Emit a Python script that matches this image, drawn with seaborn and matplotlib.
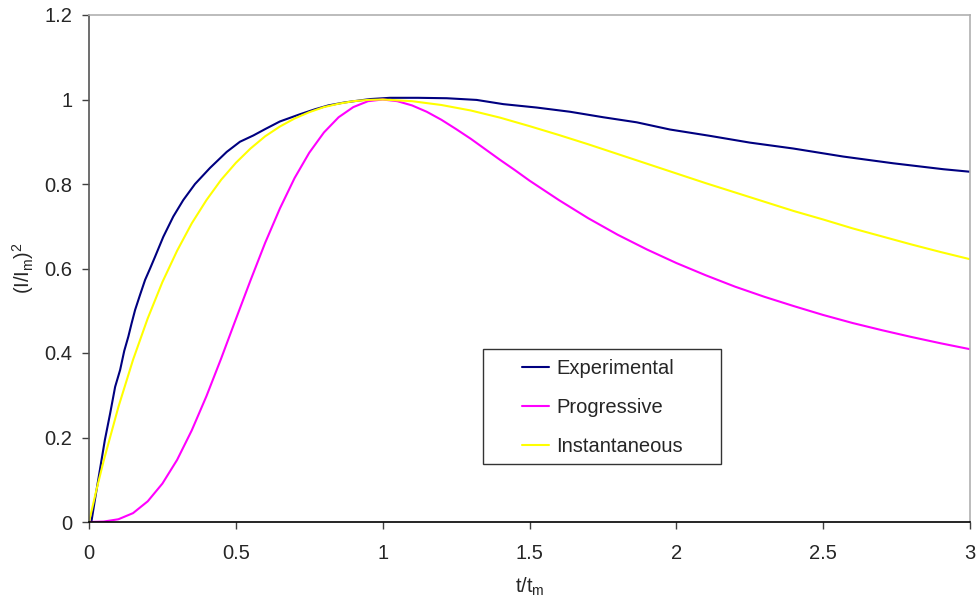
import numpy as np
import pandas as pd
import matplotlib
matplotlib.use("Agg")
import matplotlib.pyplot as plt
from matplotlib.patches import Rectangle
import seaborn as sns

# Normalised chronoamperometric transients (I/Im)^2 versus t/tm
t_exp = [0.008, 0.020, 0.037, 0.054, 0.072, 0.089, 0.106, 0.12, 0.134, 0.145,
         0.157, 0.174, 0.191, 0.208, 0.225, 0.253, 0.287, 0.321, 0.361, 0.412,
         0.469, 0.514, 0.56, 0.6, 0.65, 0.718, 0.77, 0.815, 0.87, 0.957, 1.025,
         1.12, 1.218, 1.32, 1.411, 1.524, 1.638, 1.751, 1.865, 1.978, 2.114,
         2.25, 2.398, 2.568, 2.739, 2.909, 3.0]
y_exp = [0.0, 0.052, 0.123, 0.194, 0.257, 0.320, 0.360, 0.405, 0.439, 0.470,
         0.502, 0.538, 0.573, 0.600, 0.628, 0.675, 0.723, 0.762, 0.800, 0.838,
         0.876, 0.900, 0.915, 0.930, 0.948, 0.965, 0.977, 0.986, 0.993, 1.001,
         1.004, 1.004, 1.003, 0.999, 0.989, 0.981, 0.971, 0.958, 0.946, 0.929,
         0.914, 0.898, 0.884, 0.865, 0.849, 0.835, 0.829]

t_prog = [0.0, 0.05, 0.1, 0.15, 0.2, 0.25, 0.3, 0.35, 0.4, 0.45, 0.5, 0.55,
          0.6, 0.65, 0.7, 0.75, 0.8, 0.85, 0.9, 0.95, 1.0, 1.05, 1.1, 1.15,
          1.2, 1.25, 1.3, 1.35, 1.4, 1.45, 1.5, 1.55, 1.6, 1.7, 1.8, 1.9, 2.0,
          2.1, 2.2, 2.3, 2.4, 2.5, 2.6, 2.7, 2.8, 2.9, 3.0]
y_prog = [0.0, 0.001, 0.0065, 0.021, 0.049, 0.091, 0.147, 0.217, 0.298, 0.387,
          0.480, 0.572, 0.661, 0.742, 0.814, 0.874, 0.922, 0.958, 0.982, 0.996,
          1.0, 0.996, 0.986, 0.971, 0.952, 0.930, 0.907, 0.882, 0.857, 0.833,
          0.808, 0.785, 0.762, 0.719, 0.680, 0.645, 0.613, 0.584, 0.557, 0.533,
          0.511, 0.490, 0.471, 0.454, 0.438, 0.423, 0.409]

t_inst = [0.0, 0.025, 0.05, 0.1, 0.15, 0.2, 0.25, 0.3, 0.35, 0.4, 0.45, 0.5,
          0.55, 0.6, 0.65, 0.7, 0.75, 0.8, 0.85, 0.9, 0.95, 1.0, 1.1, 1.2, 1.3,
          1.4, 1.5, 1.6, 1.7, 1.8, 1.9, 2.0, 2.1, 2.2, 2.3, 2.4, 2.5, 2.6, 2.7,
          2.8, 2.9, 3.0]
y_inst = [0.0, 0.075, 0.145, 0.272, 0.384, 0.482, 0.568, 0.642, 0.707, 0.762,
          0.810, 0.850, 0.884, 0.913, 0.936, 0.955, 0.970, 0.982, 0.990, 0.996,
          0.999, 1.0, 0.996, 0.987, 0.974, 0.957, 0.937, 0.916, 0.894, 0.871,
          0.848, 0.825, 0.802, 0.780, 0.758, 0.736, 0.716, 0.695, 0.676, 0.657,
          0.639, 0.622]

series_names = ["Experimental", "Progressive", "Instantaneous"]
series_colors = ["#000080", "#FF00FF", "#FFFF00"]

df = pd.concat([
    pd.DataFrame({"t": t_exp, "y": y_exp, "series": series_names[0]}),
    pd.DataFrame({"t": t_prog, "y": y_prog, "series": series_names[1]}),
    pd.DataFrame({"t": t_inst, "y": y_inst, "series": series_names[2]}),
], ignore_index=True)

sns.set_style("white")
plt.rcParams["font.family"] = ["Liberation Sans", "DejaVu Sans"]
plt.rcParams["mathtext.fontset"] = "custom"
plt.rcParams["mathtext.rm"] = "Liberation Sans"
plt.rcParams["mathtext.it"] = "Liberation Sans"

FS = 14.5

fig = plt.figure(figsize=(9.77, 6.01), dpi=100)
ax = fig.add_axes([89 / 977, 1 - 522 / 601, (970 - 89) / 977, (522 - 15) / 601])

sns.lineplot(data=df, x="t", y="y", hue="series", hue_order=series_names,
             palette=series_colors, sort=False, estimator=None,
             linewidth=1.5, ax=ax, legend=False)

ax.set_xlim(0, 3)
ax.set_ylim(0, 1.2)
ax.set_xticks([0, 0.5, 1, 1.5, 2, 2.5, 3])
ax.set_xticklabels(["0", "0.5", "1", "1.5", "2", "2.5", "3"])
ax.set_yticks([0, 0.2, 0.4, 0.6, 0.8, 1.0, 1.2])
ax.set_yticklabels(["0", "0.2", "0.4", "0.6", "0.8", "1", "1.2"])
ax.tick_params(axis="both", which="major", labelsize=FS, direction="out",
               length=5, width=1, color="#404040",
               bottom=True, left=True)
ax.tick_params(axis="x", pad=11)
ax.tick_params(axis="y", pad=7)

ax.set_xlabel(r"$\mathregular{t/t_m}$", fontsize=FS, labelpad=9)
ax.set_ylabel(r"$\mathregular{(I/I_m)^2}$", fontsize=FS, labelpad=6)

ax.spines["left"].set_color("#555555")
ax.spines["bottom"].set_color("#000000")
ax.spines["top"].set_color("#b0b0b0")
ax.spines["right"].set_color("#b0b0b0")
for s in ax.spines.values():
    s.set_linewidth(1.2)

# Legend box and entries
ax.add_patch(Rectangle((0.447, 0.114), 0.270, 0.227, transform=ax.transAxes,
                       fill=False, edgecolor="#333333", linewidth=1.0, zorder=5))
handles = [plt.Line2D([], [], color=c, linewidth=1.5) for c in series_colors]
ax.legend(handles, series_names, loc="center", bbox_to_anchor=(0.583, 0.226),
          frameon=False, fontsize=FS, handlelength=1.35, handletextpad=0.35,
          labelspacing=1.0, borderpad=0.0)

fig.savefig("out.png", dpi=100)
